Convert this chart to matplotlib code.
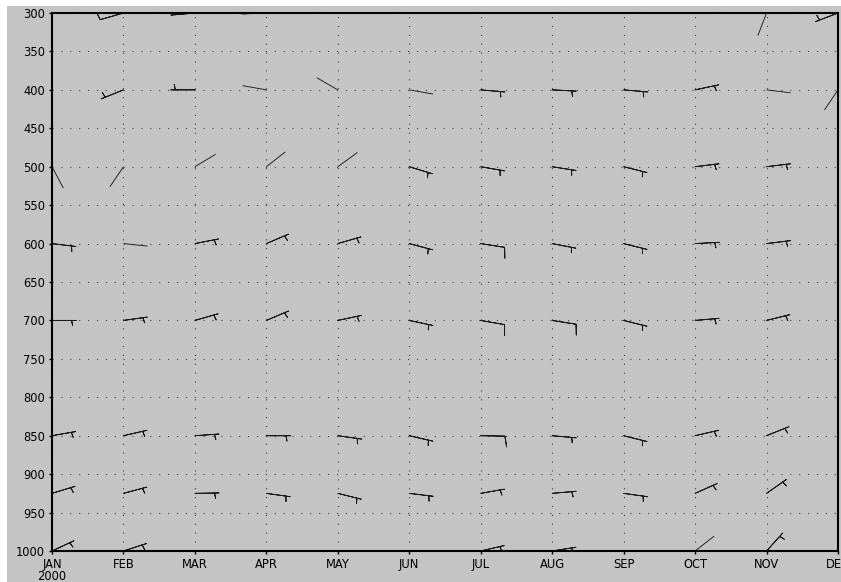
import numpy as np
import matplotlib.pyplot as plt
from matplotlib.patches import Rectangle

# ---Datos: viento (direccion meteorologica en grados, rapidez en nudos)
months = ['JAN\n2000', 'FEB', 'MAR', 'APR', 'MAY', 'JUN',
          'JUL', 'AUG', 'SEP', 'OCT', 'NOV', 'DEC']
levels = [300, 400, 500, 600, 700, 850, 925, 1000]

dir300 = [20, 254, 265, 268, 20, 10, 30, 20, 10, 30, 201, 249]
spd300 = [5, 10, 5, 5, 5, 5, 5, 5, 5, 5, 2, 5]
dir400 = [270, 248, 270, 280, 300, 100, 95, 93, 95, 78, 97, 214]
spd400 = [5, 5, 5, 2, 2, 2, 5, 5, 5, 5, 2, 2]
dir500 = [152, 214, 59, 52, 54, 107, 100, 99, 104, 83, 83, 90]
spd500 = [2, 2, 2, 2, 2, 5, 5, 5, 5, 5, 5, 5]
dir600 = [97, 96, 79, 67, 74, 105, 99, 101, 104, 87, 83, 85]
spd600 = [5, 2, 5, 5, 5, 5, 10, 5, 5, 5, 5, 5]
dir700 = [90, 82, 74, 67, 78, 102, 100, 99, 104, 85, 76, 80]
spd700 = [5, 5, 5, 5, 5, 5, 10, 10, 5, 5, 5, 5]
dir850 = [80, 77, 86, 90, 98, 103, 91, 95, 104, 77, 68, 80]
spd850 = [5, 5, 5, 5, 5, 5, 10, 5, 5, 5, 5, 5]
dir925 = [73, 75, 89, 98, 104, 97, 80, 85, 98, 66, 55, 70]
spd925 = [5, 5, 5, 5, 5, 5, 5, 5, 5, 5, 5, 5]
dir1000 = [65, 72, 92, 120, 130, 140, 77, 81, 130, 52, 42, 70]
spd1000 = [5, 5, 5, 5, 5, 5, 5, 5, 5, 2, 5, 5]

D = np.array([dir300, dir400, dir500, dir600, dir700, dir850, dir925, dir1000], float)
S = np.array([spd300, spd400, spd500, spd600, spd700, spd850, spd925, spd1000], float)

# componentes u, v
U = -S*np.sin(np.radians(D))
V = -S*np.cos(np.radians(D))
X, Y = np.meshgrid(np.arange(len(months)), levels)

gris = '#c4c4c4'
fig = plt.figure(figsize=(8.41, 5.82), dpi=100, facecolor='white')
fig.patches.append(Rectangle((7/841, 0), 834/841, 576/582, transform=fig.transFigure,
                             facecolor=gris, edgecolor='none', zorder=-10))
ax = fig.add_axes([52/841, 31/582, 786/841, 538/582])
ax.set_facecolor(gris)

L = 5.9  # largo de la barba
calma = S < 2.5
# vientos con barbas
ax.barbs(X[~calma], Y[~calma], U[~calma], V[~calma], length=L, color='#1a1a1a',
         linewidth=0.65, sizes=dict(height=0.44, width=0.16), zorder=3)
# vientos calmos: solo el asta (barbas de tamano cero)
ax.barbs(X[calma], Y[calma], U[calma], V[calma], length=L, color='#1a1a1a',
         linewidth=0.65, sizes=dict(height=0, width=0, spacing=0),
         barb_increments=dict(half=1, full=100, flag=500), zorder=3)

ax.set_xlim(0, len(months)-1)
ax.set_ylim(1000, 300)
ax.set_xticks(np.arange(len(months)))
ax.set_xticklabels(months)
ax.set_yticks(np.arange(300, 1001, 50))
ax.xaxis.get_ticklabels()[0].set_linespacing(0.95)
ax.tick_params(labelsize=8.3, length=2.5, width=1, pad=2.5, colors='black')
for lab in ax.get_xticklabels()+ax.get_yticklabels():
    lab.set_family('DejaVu Sans')
ax.grid(True, linestyle=(0, (1, 7)), color='#404040', linewidth=0.8, zorder=1)
ax.set_axisbelow(True)
for s in ax.spines.values():
    s.set_linewidth(1.5)
    s.set_zorder(4)

plt.savefig('out.png', dpi=100, facecolor='white')
